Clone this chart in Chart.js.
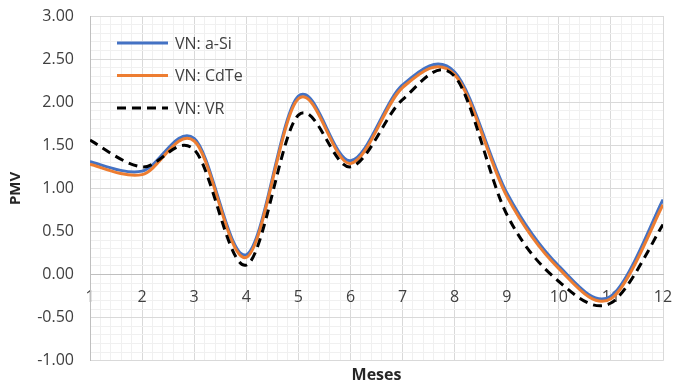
<!DOCTYPE html>
<html>
<head>
<meta charset="utf-8">
<script src="https://cdn.jsdelivr.net/npm/chart.js@4/dist/chart.umd.min.js"></script>
<style>
  html, body { margin: 0; padding: 0; background: #ffffff; }
  #wrap { width: 673px; height: 388px; }
</style>
</head>
<body>
<div id="wrap"><canvas id="c" width="673" height="388"></canvas></div>
<script>
// Months on the horizontal axis
const months = [1, 2, 3, 4, 5, 6, 7, 8, 9, 10, 11, 12];

// PMV per month for each case
const pmvASi  = [1.31, 1.20, 1.58, 0.23, 2.07, 1.32, 2.20, 2.35, 0.95, 0.10, -0.25, 0.87];
const pmvCdTe = [1.28, 1.16, 1.55, 0.20, 2.04, 1.29, 2.17, 2.32, 0.91, 0.07, -0.28, 0.81];
const pmvVR   = [1.56, 1.25, 1.45, 0.11, 1.85, 1.25, 2.03, 2.30, 0.70, -0.08, -0.33, 0.58];

const seriesNames = ['VN: a-Si', 'VN: CdTe', 'VN: VR'];

const FONT = "'Open Sans', 'Noto Sans', sans-serif";
const MAJOR = '#d9d9d9';
const MINOR = '#f0f0f0';
const AXIS = '#bfbfbf';

function pts(vals) {
  return months.map((m, i) => ({ x: m, y: vals[i] }));
}

function isMultiple(v, step) {
  const r = v / step;
  return Math.abs(r - Math.round(r)) < 1e-6;
}

// Spreadsheet-style smoothing: uniform Catmull-Rom control points
// (tangent at each point = (next - prev) / 6), computed from the
// pixel positions the scales give to the data points.
const uniformSmoothing = {
  id: 'uniformSmoothing',
  beforeDatasetsDraw(chart) {
    chart.getSortedVisibleDatasetMetas().forEach((meta) => {
      const p = meta.data;
      const n = p.length;
      for (let i = 0; i < n; i++) {
        const prev = p[Math.max(i - 1, 0)];
        const next = p[Math.min(i + 1, n - 1)];
        const dx = (next.x - prev.x) / 6;
        const dy = (next.y - prev.y) / 6;
        p[i].cp1x = p[i].x - dx;
        p[i].cp1y = p[i].y - dy;
        p[i].cp2x = p[i].x + dx;
        p[i].cp2y = p[i].y + dy;
      }
      if (meta.dataset) {
        meta.dataset._pointsUpdated = true;
        meta.dataset._path = undefined;
      }
    });
  }
};

// Legend drawn inside the plot area, top-left
const innerLegend = {
  id: 'innerLegend',
  afterDatasetsDraw(chart) {
    const { ctx, chartArea } = chart;
    const x0 = chartArea.left + 27;
    const lineLen = 51;
    const y0 = chartArea.top + 27;
    const rowGap = 32.5;
    ctx.save();
    ctx.font = "16px " + FONT;
    ctx.textBaseline = 'middle';
    ctx.textAlign = 'left';
    chart.data.datasets.forEach((ds, i) => {
      const y = y0 + i * rowGap;
      ctx.beginPath();
      ctx.strokeStyle = ds.borderColor;
      ctx.lineWidth = ds.borderWidth;
      ctx.setLineDash(ds.borderDash || []);
      ctx.moveTo(x0, y);
      ctx.lineTo(x0 + lineLen, y);
      ctx.stroke();
      ctx.setLineDash([]);
      ctx.fillStyle = '#404040';
      ctx.fillText(ds.label, x0 + lineLen + 7, y + 1);
    });
    ctx.restore();
  }
};

new Chart(document.getElementById('c'), {
  type: 'line',
  data: {
    datasets: [
      { label: seriesNames[0], data: pts(pmvASi),  borderColor: '#4472c4', borderWidth: 3, order: 2 },
      { label: seriesNames[1], data: pts(pmvCdTe), borderColor: '#ed7d31', borderWidth: 3, order: 1 },
      { label: seriesNames[2], data: pts(pmvVR),   borderColor: '#000000', borderWidth: 3, borderDash: [9, 6], order: 0 }
    ]
  },
  options: {
    responsive: false,
    animation: false,
    devicePixelRatio: 1,
    layout: { padding: { top: 16, right: 10, left: 0, bottom: 0 } },
    elements: {
      point: { radius: 0 },
      line: { tension: 0.4, fill: false, cubicInterpolationMode: 'default', capBezierPoints: false }
    },
    plugins: {
      legend: { display: false },
      tooltip: { enabled: false },
      title: {
        display: true,
        text: 'Meses',
        position: 'bottom',
        fullSize: false,
        color: '#262626',
        font: { family: FONT, size: 16, weight: 'bold' },
        padding: { top: 5, bottom: 3 }
      }
    },
    scales: {
      x: {
        type: 'linear',
        position: { y: 0 },
        min: 1,
        max: 12,
        afterFit: (scale) => { scale.paddingLeft = 0; scale.paddingRight = 0; },
        border: { display: true, color: AXIS, width: 1 },
        grid: {
          drawTicks: false,
          color: (c) => (c.tick && isMultiple(c.tick.value, 1)) ? MAJOR : MINOR,
          lineWidth: 1
        },
        ticks: {
          stepSize: 0.2,
          autoSkip: false,
          maxTicksLimit: 200,
          maxRotation: 0,
          minRotation: 0,
          padding: 13,
          color: '#404040',
          font: { family: FONT, size: 16 },
          callback: (v) => isMultiple(v, 1) ? String(Math.round(v)) : ''
        }
      },
      y: {
        type: 'linear',
        min: -1,
        max: 3,
        afterFit: (scale) => { scale.width = 90; scale.paddingTop = 0; scale.paddingBottom = 0; },
        border: { display: true, color: AXIS, width: 1 },
        grid: {
          drawTicks: false,
          color: (c) => {
            if (!c.tick) return MINOR;
            if (Math.abs(c.tick.value) < 1e-6) return AXIS;
            return isMultiple(c.tick.value, 0.5) ? MAJOR : MINOR;
          },
          lineWidth: 1
        },
        title: {
          display: true,
          text: 'PMV',
          color: '#262626',
          font: { family: FONT, size: 15, weight: 'bold' },
          padding: { top: 7, bottom: 0 }
        },
        ticks: {
          stepSize: 0.1,
          autoSkip: false,
          maxTicksLimit: 200,
          padding: 16,
          color: '#404040',
          font: { family: FONT, size: 16 },
          callback: (v) => isMultiple(v, 0.5) ? Number(v).toFixed(2) : ''
        }
      }
    }
  },
  plugins: [uniformSmoothing, innerLegend]
});
</script>
</body>
</html>
